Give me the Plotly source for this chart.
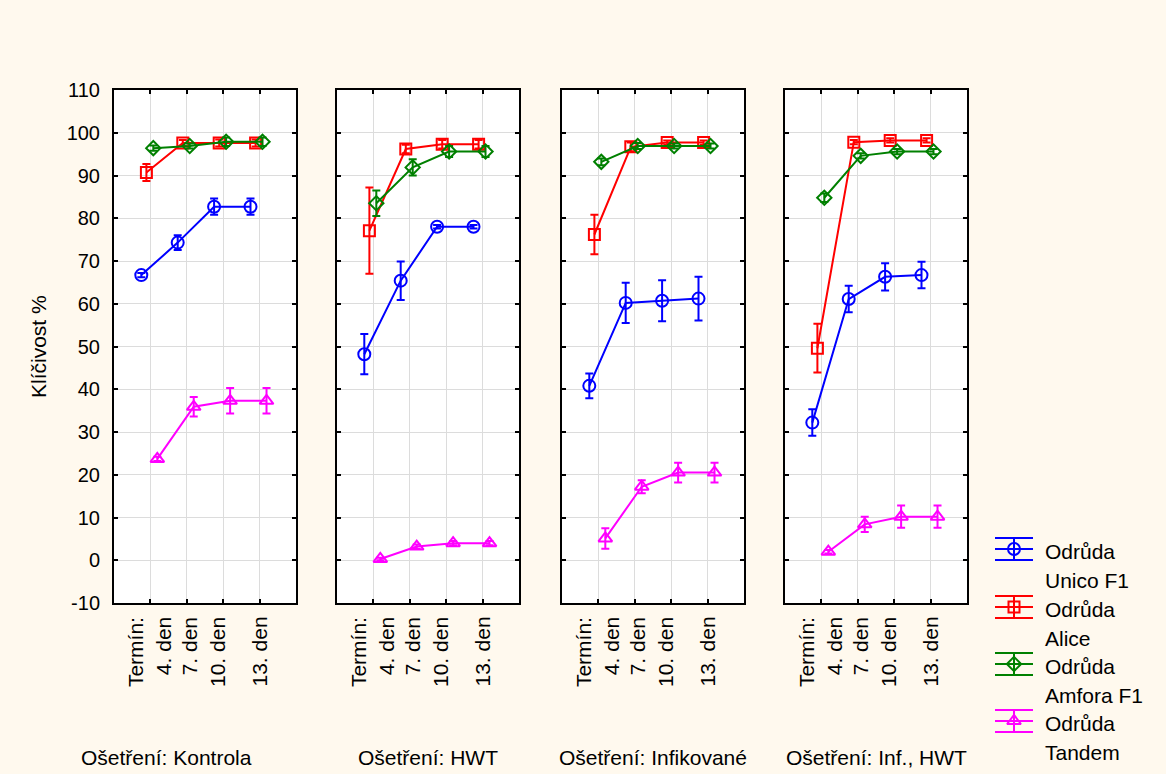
import plotly.graph_objects as go

# ---- data -------------------------------------------------------------
days = ["4. den", "7. den", "10. den", "13. den"]
treatments = ["Kontrola", "HWT", "Infikované", "Inf., HWT"]
varieties = ["Unico F1", "Alice", "Amfora F1", "Tandem"]

# germination (%) per treatment panel, days 4 / 7 / 10 / 13
unico_mean = [[66.7, 74.3, 82.7, 82.7], [48.2, 65.4, 78.0, 78.0],
              [40.8, 60.2, 60.7, 61.2], [32.2, 61.1, 66.3, 66.7]]
unico_err = [[0.5, 1.7, 1.9, 1.9], [4.7, 4.5, 0.4, 0.4],
             [2.9, 4.7, 4.8, 5.1], [3.1, 3.1, 3.2, 3.1]]

alice_mean = [[90.7, 97.6, 97.6, 97.6], [77.1, 96.2, 97.3, 97.3],
              [76.2, 96.7, 97.7, 97.7], [49.6, 97.8, 98.2, 98.2]]
alice_err = [[2.0, 0.7, 0.8, 0.8], [10.1, 1.0, 1.0, 1.0],
             [4.6, 1.0, 0.5, 0.5], [5.7, 0.5, 0.5, 0.5]]

amfora_mean = [[96.4, 96.9, 97.9, 97.9], [83.5, 91.9, 95.6, 95.6],
               [93.2, 96.9, 96.9, 96.9], [84.8, 94.6, 95.6, 95.6]]
amfora_err = [[0.6, 0.6, 1.0, 1.0], [3.0, 1.9, 1.3, 1.3],
              [0.8, 0.7, 0.6, 0.6], [1.0, 0.6, 0.6, 0.6]]

tandem_mean = [[23.7, 35.9, 37.3, 37.3], [0.3, 3.2, 4.0, 4.0],
               [5.1, 17.2, 20.5, 20.5], [2.0, 8.4, 10.2, 10.2]]
tandem_err = [[0.5, 2.3, 3.0, 3.0], [0.3, 0.5, 0.5, 0.5],
              [2.4, 1.5, 2.3, 2.3], [0.4, 1.8, 2.6, 2.6]]

y_ticks = [-10, 0, 10, 20, 30, 40, 50, 60, 70, 80, 90, 100, 110]
y_tick_text = [str(v) for v in y_ticks]   # plain hyphen for negatives

# ---- styling ----------------------------------------------------------
FONT = "Liberation Sans, Arial, sans-serif"
FS = 21
PAPER = "#FFF9EE"
GRID = "#DCDCDC"
W, H = 1166, 774

series = [
    dict(name=varieties[0], mean=unico_mean, err=unico_err, color="#0000FF",
         symbol="circle-open", size=12, dx=-0.25),
    dict(name=varieties[1], mean=alice_mean, err=alice_err, color="#FF0000",
         symbol="square-open", size=11, dx=-0.11),
    dict(name=varieties[2], mean=amfora_mean, err=amfora_err, color="#008000",
         symbol="diamond-open", size=11, dx=0.08),
    dict(name=varieties[3], mean=tandem_mean, err=tandem_err, color="#FF00FF",
         symbol="triangle-up-open", size=12, dx=0.19),
]

# panel frames in pixels (left, right); shared top/bottom
panel_px = [(114, 296), (337, 519), (562, 744), (785, 967)]
top_px, bot_px = 90, 603
label_cx = [166, 428, 653, 876]            # centres of treatment captions
tick_label_pos = [0.58, 1.35, 2.07, 2.83, 3.97]  # rotated category captions


def px_x(p):
    return p / W


def px_y(p):
    return 1 - p / H


fig = go.Figure()
layout = dict(
    width=W, height=H, autosize=False,
    margin=dict(l=0, r=0, t=0, b=0, autoexpand=False),
    paper_bgcolor=PAPER, plot_bgcolor=PAPER,
    font=dict(family=FONT, size=FS, color="black"),
    showlegend=False,
)
annotations = []
shapes = []

for k, tr in enumerate(treatments):
    ax = "" if k == 0 else str(k + 1)
    xa, ya = "x" + ax, "y" + ax
    l, r = panel_px[k]
    layout["xaxis" + ax] = dict(
        domain=[px_x(l), px_x(r)], range=[0, 5], anchor=ya,
        tickvals=[1, 2, 3, 4], showticklabels=False, automargin=False,
        ticks="inside", ticklen=4, tickwidth=2, tickcolor="black",
        showline=True, linewidth=2, linecolor="black", mirror="ticks",
        showgrid=True, gridcolor=GRID, gridwidth=1, zeroline=False,
        fixedrange=True,
    )
    layout["yaxis" + ax] = dict(
        domain=[px_y(bot_px), px_y(top_px)], range=[-10, 110], anchor=xa,
        tickvals=y_ticks, ticktext=y_tick_text,
        showticklabels=(k == 0), automargin=False,
        ticks="inside", ticklen=4, tickwidth=2, tickcolor="black",
        ticklabelstandoff=8, tickfont=dict(size=20),
        showline=True, linewidth=2, linecolor="black", mirror="ticks",
        showgrid=True, gridcolor=GRID, gridwidth=1, zeroline=False,
        fixedrange=True,
    )
    # white plotting area under the grid
    shapes.append(dict(type="rect", xref=xa + " domain", yref=ya + " domain",
                       x0=0, x1=1, y0=0, y1=1, fillcolor="white",
                       line=dict(width=0), layer="below"))

    for s in series:
        fig.add_trace(go.Scatter(
            x=[i + 1 + s["dx"] for i in range(len(days))],
            y=s["mean"][k],
            error_y=dict(type="data", array=s["err"][k], visible=True,
                         color=s["color"], thickness=2, width=4),
            mode="lines+markers",
            line=dict(color=s["color"], width=2),
            marker=dict(symbol=s["symbol"], size=s["size"], color=s["color"],
                        line=dict(width=2, color=s["color"])),
            name=s["name"], xaxis=xa, yaxis=ya,
        ))

    # category captions, rotated
    for pos, txt in zip(tick_label_pos, ["Termín:"] + days):
        annotations.append(dict(
            x=pos, y=px_y(615), xref=xa, yref="paper", text=txt,
            textangle=-90, showarrow=False, xanchor="center", yanchor="top",
            font=dict(size=FS)))

    annotations.append(dict(
        x=px_x(label_cx[k]), y=px_y(757), xref="paper", yref="paper",
        text="Ošetření: " + tr, showarrow=False,
        xanchor="center", yanchor="middle", font=dict(size=FS)))

# y-axis title
annotations.append(dict(
    x=px_x(38), y=px_y(347), xref="paper", yref="paper", text="Klíčivost %",
    textangle=-90, showarrow=False, xanchor="center", yanchor="middle",
    font=dict(size=FS)))

# ---- legend, drawn on a small helper axis measured in pixels ----------
LEG_X0, LEG_X1 = 995, 1033
LEG_ROWS = [549, 607, 664, 721]
LEG_CAP = 11
layout["xaxis5"] = dict(domain=[px_x(985), px_x(1043)], range=[985, 1043],
                        visible=False, fixedrange=True, anchor="y5",
                        automargin=False)
layout["yaxis5"] = dict(domain=[px_y(770), px_y(525)], range=[770, 525],
                        visible=False, fixedrange=True, anchor="x5",
                        automargin=False)
for s, yc in zip(series, LEG_ROWS):
    fig.add_trace(go.Scatter(
        x=[LEG_X0, LEG_X1], y=[yc, yc], mode="lines",
        line=dict(color=s["color"], width=2),
        xaxis="x5", yaxis="y5", hoverinfo="skip"))
    fig.add_trace(go.Scatter(
        x=[(LEG_X0 + LEG_X1) / 2], y=[yc], mode="markers",
        marker=dict(symbol=s["symbol"], size=s["size"], color=s["color"],
                    line=dict(width=2, color=s["color"])),
        error_y=dict(type="constant", value=LEG_CAP, visible=True,
                     color=s["color"], thickness=2,
                     width=(LEG_X1 - LEG_X0) / 2),
        xaxis="x5", yaxis="y5", hoverinfo="skip"))
    annotations.append(dict(x=px_x(1043), y=px_y(yc + 2), xref="paper",
                            yref="paper", text="Odrůda", showarrow=False,
                            xanchor="left", yanchor="middle",
                            font=dict(size=FS)))
    annotations.append(dict(x=px_x(1043), y=px_y(yc + 31), xref="paper",
                            yref="paper", text=s["name"], showarrow=False,
                            xanchor="left", yanchor="middle",
                            font=dict(size=FS)))

layout["annotations"] = annotations
layout["shapes"] = shapes
fig.update_layout(**layout)

fig.write_html("out.html")
